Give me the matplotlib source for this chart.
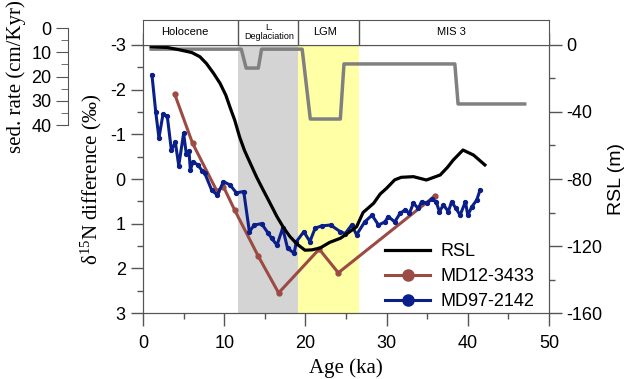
import numpy as np
import matplotlib.pyplot as plt
from matplotlib.ticker import MultipleLocator

# ── data ─────────────────────────────────────────────────────────────────────
# relative sea level (m)
rsl_age = [1.0, 3.0, 4.6, 6.0, 7.0, 7.8, 8.7, 9.5, 10.2, 10.7, 11.3, 11.9, 12.5,
           13.2, 14.0, 14.8, 15.6, 16.5, 17.3, 18.1, 19.0, 19.95, 20.8, 21.8,
           23.0, 24.3, 25.3, 26.3, 27.1, 28.4, 29.2, 30.0, 31.0, 31.8, 33.3,
           34.9, 36.6, 37.5, 38.2, 39.4, 40.7, 42.1]
rsl_m = [-1, -1.5, -3, -4.5, -7, -11, -17, -23, -30, -37, -45, -55, -63,
         -70.5, -79, -86.6, -94, -102.5, -109, -114.4, -119, -122.5, -122.3,
         -121.2, -117.8, -115.4, -112, -108.5, -100, -94.5, -89, -85.5, -80.5,
         -79, -78.6, -80.6, -77.6, -73, -68.7, -62.7, -65.7, -71.6]

# d15N difference, MD12-3433
md12_age = [3.9, 6.1, 9.1, 9.9, 11.3, 14.2, 16.7, 21.7, 24.05, 36.0]
md12_d15n = [-1.90, -0.80, 0.27, 0.17, 0.70, 1.73, 2.55, 1.57, 2.10, 0.37]

# d15N difference, MD97-2142
md97_age = [1.1, 1.56, 1.96, 2.46, 2.99, 3.49, 3.98, 4.4, 5.0, 5.34, 5.66,
            5.83, 6.16, 6.77, 7.3, 7.6, 8.46, 9.15, 9.9, 10.7, 11.5, 12.4,
            13.1, 13.7, 14.6, 15.4, 15.85, 16.5, 17.2, 17.8, 18.6, 18.9,
            19.8, 20.55, 21.2, 22.0, 23.1, 24.3, 24.9, 25.7, 26.3, 27.3,
            28.2, 29.0, 29.8, 30.2, 31.0, 31.65, 32.3, 32.8, 33.3, 33.9,
            34.3, 34.95, 35.6, 36.1, 36.5, 37.0, 37.6, 38.0, 38.55, 39.05,
            39.7, 40.0, 40.5, 41.1, 41.5]
md97_d15n = [-2.33, -1.51, -0.92, -1.45, -1.40, -0.65, -0.82, -0.30, -1.02,
             -0.55, -0.63, -0.20, -0.39, -0.31, -0.18, -0.13, 0.25, 0.36,
             0.06, 0.13, 0.31, 0.28, 1.18, 1.03, 1.00, 1.21, 1.33, 1.48,
             1.10, 1.55, 1.66, 1.40, 1.18, 1.40, 1.10, 1.05, 1.03, 1.18,
             1.22, 1.03, 1.25, 0.96, 0.81, 1.03, 0.96, 0.84, 0.96, 0.77,
             0.69, 0.77, 0.54, 0.66, 0.51, 0.54, 0.45, 0.51, 0.73, 0.58,
             0.73, 0.51, 0.66, 0.81, 0.51, 0.81, 0.62, 0.47, 0.25]

# sedimentation rate (cm/Kyr)
sed_age = [1.0, 12.1, 12.7, 14.2, 14.6, 19.6, 20.6, 24.3, 24.75, 38.4, 38.8, 47.0]
sed_rate = [8.7, 8.7, 16.5, 16.5, 8.7, 8.7, 37.5, 37.5, 14.8, 14.8, 31.3, 31.3]

periods = ["Holocene", "L.\nDeglaciation", "LGM", "MIS 3"]
period_edges = [0, 11.75, 19.05, 26.6, 50]
period_label_x = [5.2, 15.5, 22.4, 38.0]

# ── style ────────────────────────────────────────────────────────────────────
plt.rcParams["font.family"] = "Liberation Sans"
plt.rcParams["axes.unicode_minus"] = False
plt.rcParams["mathtext.fontset"] = "custom"
plt.rcParams["mathtext.rm"] = "Liberation Serif"
plt.rcParams["mathtext.it"] = "Liberation Serif:italic"
SPINE = "#555555"
BLUE = "#0b1f8a"
RED = "#9c4a44"
GREY = "#808080"
SERIF = "Liberation Serif"

fig = plt.figure(figsize=(6.32, 3.79), dpi=100)

L, B, W, H = 0.2263, 0.1741, 0.6424, 0.7072
ax = fig.add_axes([L, B, W, H])
ax_sed = ax.twinx()
ax_rsl = ax.twinx()


def style_ticks(a, **kw):
    a.tick_params(which="major", length=9, width=1, color=SPINE, labelsize=13, **kw)
    a.tick_params(which="minor", length=4.5, width=1, color=SPINE, **kw)


# shaded periods
ax.axvspan(period_edges[1], period_edges[2], color="#d4d4d4", lw=0, zorder=0)
ax.axvspan(period_edges[2], period_edges[3], color="#ffffa6", lw=0, zorder=0)

# d15N records
ax.plot(md12_age, md12_d15n, "-o", color=RED, lw=2.2, ms=3.5, zorder=3)
ax.plot(md97_age, md97_d15n, "-o", color=BLUE, lw=2.2, ms=2.8, zorder=4)
ax.set_xlim(0, 50)
ax.set_ylim(3, -3)
ax.xaxis.set_major_locator(MultipleLocator(10))
ax.xaxis.set_minor_locator(MultipleLocator(5))
ax.yaxis.set_major_locator(MultipleLocator(1))
ax.yaxis.set_minor_locator(MultipleLocator(0.5))
style_ticks(ax, direction="out")
ax.tick_params(axis="x", which="both", top=True, labeltop=False, pad=7)
ax.set_xlabel("Age (ka)", family=SERIF, fontsize=15, labelpad=4)
ax.set_ylabel(r"$\mathrm{\delta}^{15}$N difference (‰)", family=SERIF, fontsize=15, labelpad=4)
for s in ax.spines.values():
    s.set_color(SPINE)

# sed. rate line shares the scale of the small axis at top left
sed_pos = [0.1076, 0.670, 0.0005, 0.256]
sed_max = 40
per_unit = sed_pos[3] / sed_max
top_val = (sed_pos[1] + sed_pos[3] - (B + H)) / per_unit
bot_val = (sed_pos[1] + sed_pos[3] - B) / per_unit
ax_sed.plot(sed_age, sed_rate, color=GREY, lw=2.5, zorder=2)
ax_sed.set_ylim(bot_val, top_val)
ax_sed.axis("off")

# RSL
ax_rsl.plot(rsl_age, rsl_m, color="black", lw=2.3)
ax_rsl.set_ylim(-160, 0)
ax_rsl.yaxis.set_major_locator(MultipleLocator(40))
ax_rsl.yaxis.set_minor_locator(MultipleLocator(20))
style_ticks(ax_rsl, direction="out")
ax_rsl.set_ylabel("RSL (m)", fontsize=14, labelpad=4)
for s in ax_rsl.spines.values():
    s.set_color(SPINE)

# sed. rate axis
ax_sr = fig.add_axes(sed_pos)
ax_sr.set_ylim(sed_max, 0)
ax_sr.yaxis.set_major_locator(MultipleLocator(10))
ax_sr.yaxis.set_minor_locator(MultipleLocator(5))
ax_sr.set_xticks([])
for k in ["top", "right", "bottom"]:
    ax_sr.spines[k].set_visible(False)
ax_sr.spines["left"].set_color(SPINE)
ax_sr.patch.set_visible(False)
ax_sr.tick_params(which="major", length=8.5, color=SPINE, labelsize=13)
ax_sr.tick_params(which="minor", length=4.8, color=SPINE)
ax_sr.set_ylabel("sed. rate (cm/Kyr)", family=SERIF, fontsize=15, labelpad=4)

# period header
ax_hd = fig.add_axes([L, B + H, W, 0.066])
ax_hd.set_xlim(0, 50)
ax_hd.set_ylim(0, 1)
ax_hd.set_xticks([])
ax_hd.set_yticks([])
for s in ax_hd.spines.values():
    s.set_color(SPINE)
for edge in period_edges[1:-1]:
    ax_hd.axvline(edge, color=SPINE, lw=1)
for name, xc in zip(periods, period_label_x):
    fs = 6.5 if "\n" in name else 8
    ax_hd.text(xc, 0.5, name, ha="center", va="center", fontsize=fs, linespacing=1.0)

# legend
h1, = ax_rsl.plot([], [], color="black", lw=2.3, label="RSL")
h2, = ax.plot([], [], "-o", color=RED, lw=2.2, ms=8, label="MD12-3433")
h3, = ax.plot([], [], "-o", color=BLUE, lw=2.2, ms=8, label="MD97-2142")
ax_rsl.legend(handles=[h1, h2, h3], loc="lower right", bbox_to_anchor=(1.005, -0.05),
              frameon=False, fontsize=13, handlelength=2.5, handletextpad=0.6,
              labelspacing=0.45)

plt.savefig("out.png", dpi=100)
